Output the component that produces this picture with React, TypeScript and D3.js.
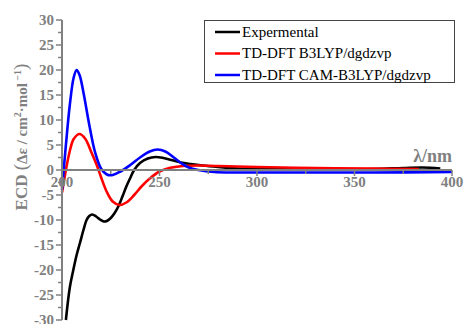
import React, { useEffect, useRef } from 'react';
import * as d3 from 'd3';

// wavelengths (nm) and ECD values
const expLambda = [202, 204, 205.8, 207.5, 209.2, 211, 212.6, 214, 215.5, 217.5, 219.5, 221.5, 223, 225, 227, 229, 231, 233, 235, 237, 240, 244, 248, 252, 256, 261, 266, 272, 280, 290, 300, 320, 340, 360, 375, 385, 394];
const expValues = [-30, -23.5, -20, -17, -14.6, -12, -10, -9.2, -8.9, -9.3, -9.9, -10.3, -10.2, -9.6, -8.6, -7.2, -5.3, -3.3, -1.6, 0, 1.4, 2.3, 2.6, 2.4, 2, 1.5, 1.2, 0.9, 0.6, 0.3, 0.2, 0.1, 0.1, 0.2, 0.4, 0.5, 0.3];

const b3lypLambda = [200, 202, 204, 206, 209, 212, 215, 218, 220, 223, 226, 229.5, 233, 237, 241, 245, 250, 255, 262, 270, 280, 300, 330, 360, 383];
const b3lypValues = [-4.5, 0, 3.8, 6.2, 7.2, 6.2, 3.6, 0.8, -1.4, -4.4, -6.3, -7, -6.5, -5, -3.2, -1.7, -0.3, 0.4, 0.8, 0.9, 0.8, 0.6, 0.4, 0.3, 0.2];

const camLambda = [200, 202, 204, 206, 207.5, 209, 211, 214, 217, 220, 223, 226, 230, 235, 240, 245, 249, 253, 257, 261, 265, 270, 278, 290, 320, 360, 400];
const camValues = [-4, 5, 13, 18.5, 20, 19, 15.5, 9, 3.5, 0.3, -0.9, -1, -0.3, 1, 2.5, 3.7, 4.1, 3.7, 2.6, 1.4, 0.5, 0, -0.4, -0.5, -0.5, -0.5, -0.4];

const seriesNames = ['Expermental', 'TD-DFT B3LYP/dgdzvp', 'TD-DFT CAM-B3LYP/dgdzvp'];
const seriesColors = ['#000000', '#ff0000', '#0000ff'];

const xTicks = [200, 250, 300, 350, 400];
const yTicks = [30, 25, 20, 15, 10, 5, 0, -5, -10, -15, -20, -25, -30];

function App() {
  const ref = useRef(null);

  useEffect(() => {
    const grey = '#808080';
    const serif = 'Liberation Serif';

    const svg = d3.select(ref.current);
    svg.selectAll('*').remove();

    const x = d3.scaleLinear().domain([200, 400]).range([62, 452]);
    const y = d3.scaleLinear().domain([-30, 30]).range([320, 20]);

    const series = [
      { lam: expLambda, val: expValues },
      { lam: b3lypLambda, val: b3lypValues },
      { lam: camLambda, val: camValues },
    ];

    const line = d3.line()
      .x(d => x(d[0]))
      .y(d => y(d[1]))
      .curve(d3.curveCatmullRom.alpha(0.5));

    // x axis along zero
    const xg = svg.append('g').attr('transform', `translate(0,${y(0)})`);
    xg.append('line')
      .attr('x1', x(200)).attr('x2', x(400))
      .attr('stroke', grey).attr('stroke-width', 2);
    d3.range(225, 401, 25).forEach(t => {
      const major = t % 50 === 0;
      xg.append('line')
        .attr('x1', x(t)).attr('x2', x(t))
        .attr('y1', 0).attr('y2', major ? 6 : 4)
        .attr('stroke', grey).attr('stroke-width', 1.5);
    });

    // curves
    series.forEach((s, i) => {
      const pts = s.lam.map((l, j) => [l, s.val[j]]);
      svg.append('path')
        .datum(pts)
        .attr('fill', 'none')
        .attr('stroke', seriesColors[i])
        .attr('stroke-width', 2.6)
        .attr('d', line);
    });

    xg.raise();
    xg.selectAll('text.xt')
      .data(xTicks)
      .join('text')
      .attr('x', d => x(d))
      .attr('y', 17)
      .attr('text-anchor', 'middle')
      .attr('font-family', serif)
      .attr('font-size', 15)
      .attr('font-weight', 'bold')
      .attr('fill', grey)
      .text(d => d);

    // y axis
    const yg = svg.append('g').attr('transform', `translate(${x(200)},0)`);
    yg.append('line')
      .attr('y1', y(-30)).attr('y2', y(30))
      .attr('stroke', grey).attr('stroke-width', 2);
    d3.range(-30, 30.1, 2.5).forEach(t => {
      const major = t % 5 === 0;
      yg.append('line')
        .attr('x1', major ? -6 : -4).attr('x2', 0)
        .attr('y1', y(t)).attr('y2', y(t))
        .attr('stroke', grey).attr('stroke-width', 1.5);
    });
    yg.selectAll('text.yt')
      .data(yTicks)
      .join('text')
      .attr('x', -8)
      .attr('y', d => y(d))
      .attr('dy', '0.35em')
      .attr('text-anchor', 'end')
      .attr('font-family', serif)
      .attr('font-size', 15)
      .attr('font-weight', 'bold')
      .attr('fill', grey)
      .text(d => d);

    // y label
    const yl = svg.append('text')
      .attr('transform', 'translate(27,137) rotate(-90)')
      .attr('text-anchor', 'middle')
      .attr('font-family', serif)
      .attr('font-size', 15)
      .attr('font-weight', 'bold')
      .attr('fill', grey);
    yl.append('tspan').attr('font-size', 17).text('ECD ');
    yl.append('tspan').attr('font-size', 19).attr('font-weight', 'normal').text('(');
    yl.append('tspan').text('Δε / cm');
    yl.append('tspan').attr('dy', -6).attr('font-size', 10).text('2');
    yl.append('tspan').attr('dy', 6).text('·mol');
    yl.append('tspan').attr('dy', -6).attr('font-size', 10).text(' −1');
    yl.append('tspan').attr('dy', 6).attr('font-size', 19).attr('font-weight', 'normal').text(')');

    // x label
    svg.append('text')
      .attr('x', 452)
      .attr('y', 162)
      .attr('text-anchor', 'end')
      .attr('font-family', serif)
      .attr('font-size', 18)
      .attr('font-weight', 'bold')
      .attr('fill', grey)
      .text('λ/nm');

    // legend
    const lg = svg.append('g');
    lg.append('rect')
      .attr('x', 204.5).attr('y', 20.5)
      .attr('width', 250).attr('height', 62)
      .attr('fill', 'white')
      .attr('stroke', '#444').attr('stroke-width', 1);
    seriesNames.forEach((name, i) => {
      const cy = 32 + i * 21.5;
      lg.append('line')
        .attr('x1', 215).attr('x2', 240)
        .attr('y1', cy).attr('y2', cy)
        .attr('stroke', seriesColors[i]).attr('stroke-width', 2.5);
      lg.append('text')
        .attr('x', 242)
        .attr('y', cy)
        .attr('dy', '0.32em')
        .attr('font-family', serif)
        .attr('font-size', 15)
        .attr('fill', '#000')
        .text(name);
    });
  });

  return (
    <svg ref={ref} width={464} height={324}
      style={{ position: 'absolute', left: 0, top: 0, background: 'white' }} />
  );
}

export default App;
